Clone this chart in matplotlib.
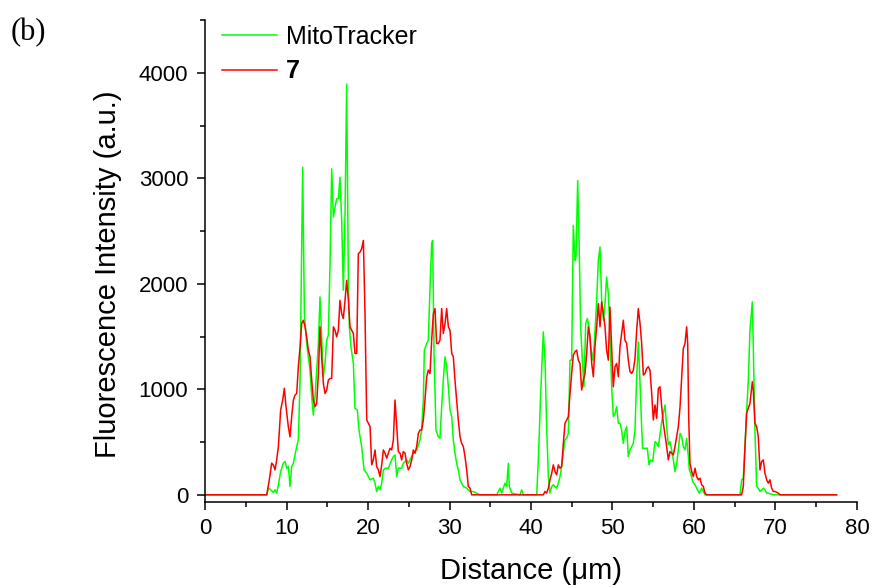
import matplotlib
matplotlib.use("Agg")
import matplotlib.pyplot as plt
from matplotlib.ticker import MultipleLocator

# line profile across the cell: MitoTracker channel (green)
mito_x = [0, 7.57, 7.77, 7.98, 8.38, 8.59, 8.79, 9.0, 9.28, 9.61,
          9.82, 10.02, 10.23, 10.43, 10.63, 10.84, 11.25, 11.45, 11.66, 11.86,
          11.98, 12.19, 12.47, 12.88, 13.09, 13.29, 13.5, 13.7, 13.91, 14.11,
          14.31, 14.52, 14.72, 14.93, 15.13, 15.34, 15.54, 15.75, 15.95, 16.15,
          16.36, 16.56, 16.77, 16.97, 17.18, 17.38, 17.59, 17.71, 17.91, 18.2,
          18.4, 18.69, 18.89, 19.22, 19.51, 19.84, 20.04, 20.25, 20.65, 20.86,
          21.06, 21.27, 21.47, 21.68, 21.88, 22.09, 22.49, 22.9, 23.11, 23.31,
          23.52, 23.72, 24.13, 24.33, 24.74, 24.95, 25.15, 25.56, 25.97, 26.38,
          26.58, 26.79, 26.91, 27.2, 27.4, 27.61, 27.81, 27.93, 28.1, 28.34,
          28.63, 28.83, 29.04, 29.24, 29.45, 29.65, 29.86, 30.06, 30.27, 30.47,
          30.67, 30.88, 31.08, 31.29, 31.49, 31.7, 32.11, 32.52, 32.92, 33.74,
          35.79, 35.99, 36.2, 36.4, 36.81, 37.01, 37.22, 37.34, 37.63, 38.65,
          38.85, 39.06, 40.7, 40.9, 41.19, 41.51, 41.72, 41.92, 42.13, 42.33,
          42.54, 42.74, 42.94, 43.15, 43.35, 43.56, 43.76, 43.97, 44.17, 44.38,
          44.58, 44.79, 44.99, 45.19, 45.4, 45.52, 45.73, 45.93, 46.09, 46.3,
          46.5, 46.71, 46.91, 47.12, 47.32, 47.57, 47.77, 48.06, 48.26, 48.47,
          48.67, 48.88, 49.08, 49.28, 49.49, 49.69, 49.9, 50.1, 50.31, 50.51,
          50.72, 50.92, 51.12, 51.33, 51.53, 51.74, 51.94, 52.15, 52.56, 52.76,
          52.97, 53.17, 53.38, 53.58, 53.7, 53.99, 54.28, 54.48, 54.69, 54.93,
          55.22, 55.42, 55.63, 56.04, 56.44, 56.65, 56.85, 57.06, 57.26, 57.47,
          57.67, 57.88, 58.08, 58.29, 58.49, 58.69, 58.9, 59.1, 59.31, 59.43,
          59.59, 59.84, 60.13, 60.33, 60.66, 60.94, 61.15, 61.35, 65.65, 65.85,
          66.05, 66.26, 66.47, 66.67, 66.87, 67.16, 67.28, 67.48, 67.69, 67.89,
          68.1, 68.31, 68.51, 68.71, 68.92, 69.12, 69.73, 77.5]
mito_y = [0, 0, 63, 53, 22, 47, 16, 95, 220, 300,
          315, 252, 268, 79, 268, 300, 457, 520, 1087, 2348,
          3105, 1718, 1435, 1182, 930, 757, 930, 1182, 1435, 1875,
          1497, 1119, 1245, 1466, 1513, 2191, 3089, 2632, 2726, 2805,
          2805, 3010, 2600, 1939, 2664, 3893, 2033, 1591, 1402, 1245,
          820, 804, 615, 457, 236, 205, 173, 142, 158, 110,
          31, 79, 47, 110, 236, 252, 252, 331, 362, 378,
          173, 252, 252, 299, 331, 299, 331, 394, 425, 520,
          614, 898, 1371, 1434, 1466, 1970, 2380, 2411, 1340, 614,
          551, 536, 835, 1087, 1308, 1214, 1024, 804, 741, 520,
          394, 299, 236, 142, 110, 79, 63, 31, 31, 0,
          0, 32, 63, 16, 110, 79, 299, 79, 16, 0,
          47, 0, 0, 331, 961, 1544, 1276, 646, 173, 16,
          79, 95, 79, 63, 110, 173, 268, 394, 520, 536,
          583, 1276, 1276, 2553, 2222, 2253, 2978, 2285, 1592, 1276,
          1024, 1623, 1671, 1592, 1403, 1276, 1434, 1843, 2222, 2348,
          1843, 1655, 1812, 2064, 1906, 1529, 1024, 741, 772, 835,
          678, 678, 614, 488, 599, 646, 362, 425, 489, 615,
          1119, 1450, 1056, 646, 441, 441, 441, 284, 331, 315,
          504, 489, 457, 693, 851, 646, 473, 504, 425, 331,
          221, 299, 425, 583, 551, 457, 425, 536, 362, 236,
          205, 126, 95, 63, 16, 63, 32, 0, 0, 142,
          158, 457, 800, 1087, 1560, 1828, 1403, 615, 79, 63,
          32, 45, 63, 47, 16, 16, 0, 0]

# compound 7 channel (red)
cpd_x = [0, 7.57, 7.89, 8.18, 8.38, 8.59, 8.79, 9.0, 9.28, 9.53,
         9.73, 9.94, 10.22, 10.43, 10.63, 10.84, 11.04, 11.25, 11.45, 11.66,
         11.86, 12.07, 12.27, 12.47, 12.68, 12.88, 13.09, 13.29, 13.5, 13.7,
         13.91, 14.11, 14.31, 14.52, 14.72, 14.93, 15.13, 15.34, 15.54, 15.75,
         15.95, 16.15, 16.36, 16.56, 16.77, 16.97, 17.18, 17.38, 17.59, 17.79,
         17.99, 18.2, 18.4, 18.61, 18.81, 19.02, 19.22, 19.43, 19.63, 19.84,
         20.04, 20.25, 20.45, 20.65, 20.86, 21.06, 21.27, 21.47, 21.68, 21.88,
         22.09, 22.29, 22.49, 22.7, 22.9, 23.11, 23.31, 23.52, 23.72, 23.93,
         24.13, 24.33, 24.54, 24.74, 24.95, 25.15, 25.36, 25.56, 25.77, 25.97,
         26.18, 26.38, 26.58, 26.79, 26.99, 27.2, 27.4, 27.61, 27.81, 28.02,
         28.22, 28.42, 28.63, 28.83, 29.04, 29.24, 29.45, 29.65, 29.86, 30.06,
         30.27, 30.47, 30.67, 30.88, 31.08, 31.29, 31.49, 31.7, 31.9, 32.11,
         32.31, 32.52, 32.72, 41.51, 41.72, 41.92, 42.13, 42.33, 42.54, 42.74,
         42.94, 43.15, 43.35, 43.56, 43.76, 43.97, 44.17, 44.38, 44.58, 44.79,
         44.99, 45.19, 45.4, 45.6, 45.81, 46.01, 46.22, 46.42, 46.63, 46.83,
         47.04, 47.24, 47.45, 47.65, 47.85, 48.06, 48.26, 48.47, 48.67, 48.88,
         49.08, 49.28, 49.49, 49.69, 49.9, 50.1, 50.31, 50.51, 50.72, 50.92,
         51.12, 51.33, 51.53, 51.74, 51.94, 52.15, 52.35, 52.56, 52.76, 52.97,
         53.17, 53.38, 53.58, 53.79, 53.99, 54.2, 54.4, 54.6, 54.81, 55.01,
         55.22, 55.42, 55.63, 55.83, 56.04, 56.24, 56.44, 56.65, 56.85, 57.06,
         57.26, 57.47, 57.67, 57.88, 58.08, 58.29, 58.49, 58.69, 58.9, 59.1,
         59.23, 59.35, 59.51, 59.72, 59.92, 60.13, 60.33, 60.54, 60.74, 60.94,
         61.15, 61.35, 61.56, 65.85, 66.05, 66.26, 66.46, 66.67, 66.87, 67.16,
         67.28, 67.48, 67.69, 67.89, 68.1, 68.3, 68.51, 68.71, 68.92, 69.12,
         69.32, 69.53, 69.73, 69.94, 70.35, 70.55, 77.5]
cpd_y = [0, 0, 142, 300, 284, 236, 331, 457, 805, 898,
         1010, 835, 646, 550, 741, 898, 945, 961, 1214, 1403,
         1623, 1655, 1592, 1497, 1371, 1308, 1087, 898, 835, 867,
         1150, 1592, 1308, 1056, 961, 993, 1087, 1103, 1103, 1592,
         1560, 1497, 1560, 1843, 1718, 1670, 1843, 2033, 1843, 1592,
         1560, 1529, 1340, 1340, 2285, 2301, 2332, 2411, 1718, 710,
         678, 646, 284, 331, 425, 268, 236, 173, 284, 425,
         394, 347, 394, 441, 425, 520, 898, 646, 410, 394,
         331, 410, 394, 299, 236, 268, 331, 425, 394, 457,
         583, 614, 614, 709, 898, 1119, 1182, 1150, 1466, 1718,
         1765, 1434, 1434, 1466, 1765, 1529, 1623, 1765, 1592, 1560,
         1340, 1308, 1087, 898, 709, 551, 488, 457, 362, 236,
         79, 63, 0, 0, 32, 16, 63, 142, 205, 284,
         221, 189, 284, 252, 268, 488, 678, 709, 741, 961,
         1150, 1324, 1356, 1371, 1276, 1245, 993, 1087, 1150, 1340,
         1592, 1497, 1245, 1119, 1403, 1592, 1812, 1592, 1828, 1718,
         1592, 1371, 1276, 1780, 1403, 1024, 1214, 1245, 1119, 1403,
         1529, 1655, 1466, 1434, 1276, 1166, 1150, 1182, 1290, 1560,
         1765, 1623, 1434, 1135, 1150, 1198, 1214, 1182, 961, 709,
         851, 725, 1009, 1024, 835, 678, 567, 457, 331, 410,
         394, 378, 457, 551, 646, 835, 1119, 1387, 1434, 1592,
         1434, 741, 299, 221, 173, 252, 173, 142, 158, 95,
         79, 16, 0, 0, 79, 457, 772, 820, 867, 1072,
         993, 678, 646, 551, 236, 315, 331, 205, 142, 110,
         142, 63, 32, 32, 16, 0, 0]

plt.rcParams["font.family"] = ["Liberation Sans", "DejaVu Sans"]

fig = plt.figure(figsize=(8.74, 5.88), dpi=100)
ax = fig.add_axes([0.2346, 0.1468, 0.7459, 0.8192])

ax.plot(mito_x, mito_y, color="#00FF00", linewidth=1.1, label="MitoTracker")
ax.plot(cpd_x, cpd_y, color="#FF0000", linewidth=1.1, label="7")

ax.set_xlim(0, 80)
ax.set_ylim(-65, 4500)
ax.xaxis.set_major_locator(MultipleLocator(10))
ax.xaxis.set_minor_locator(MultipleLocator(5))
ax.set_yticks([0, 1000, 2000, 3000, 4000])
ax.yaxis.set_minor_locator(MultipleLocator(500))

for side in ["top", "right"]:
    ax.spines[side].set_visible(False)
for side in ["left", "bottom"]:
    ax.spines[side].set_linewidth(1.1)

ax.tick_params(which="major", direction="out", length=6, width=1.1,
               labelsize=16, pad=6)
ax.tick_params(which="minor", direction="out", length=3.5, width=1.1)

ax.set_xlabel("Distance (\u03bcm)", fontsize=21)
ax.set_ylabel("Fluorescence Intensity (a.u.)", fontsize=21)
ax.xaxis.set_label_coords(0.5, -0.115)
ax.yaxis.set_label_coords(-0.127, 0.473)

leg = ax.legend(loc="upper left", bbox_to_anchor=(0.026, 0.99), frameon=False,
                fontsize=18, handlelength=2.2, handletextpad=0.35,
                labelspacing=0.42, borderpad=0, borderaxespad=0)
leg.get_texts()[1].set_fontweight("bold")

fig.text(0.012, 1 - 33 / 588, "(b)", fontsize=22, va="center", ha="left",
         family=["Liberation Serif", "DejaVu Serif"])

fig.savefig("out.png", dpi=100)
